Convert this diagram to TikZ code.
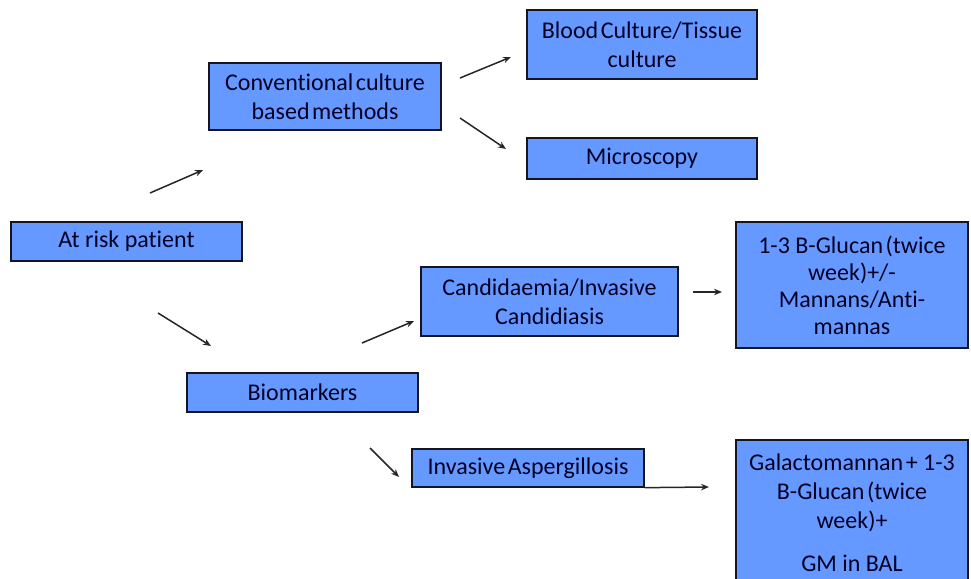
\documentclass[tikz,border=0pt]{standalone}
\usepackage{fontspec}
\setmainfont[Ligatures=NoCommon]{Carlito}
\usetikzlibrary{arrows.meta}
\definecolor{boxblue}{RGB}{102,153,255}
\definecolor{boxline}{RGB}{20,20,35}
\newcommand\tsp{\hspace{2.5pt}}
\tikzset{
  box/.style={draw=boxline, line width=1.3pt, fill=boxblue, align=center,
    inner sep=0pt, font=\fontsize{24}{29}\selectfont, text=black!85!blue},
  arr/.style={-{Stealth[length=8pt,width=6.5pt]}, line width=1.5pt, draw=black!85}
}
\begin{document}
\begin{tikzpicture}[x=1pt,y=-1pt]
\useasboundingbox (0,0) rectangle (971,578);
\clip (0,0) rectangle (971,578);
\node[box, minimum width=231pt, minimum height=39pt] (risk) at (126.5,241.5) {At risk patient};
\node[box, minimum width=232pt, minimum height=67pt] (conv) at (325,96.5) {Conventional\tsp culture\\based\tsp methods};
\node[box, minimum width=230pt, minimum height=69pt] (blood) at (642,44.5) {Blood\tsp Culture/Tissue\\culture};
\node[box, minimum width=230pt, minimum height=41pt] (micro) at (642,158.5) {Microscopy};
\node[box, minimum width=257pt, minimum height=69pt] (cand) at (549.5,301.5) {Candidaemia/Invasive\\Candidiasis};
\node[box, minimum width=232pt, minimum height=126pt, font=\fontsize{24}{27}\selectfont] (gluc) at (852,285) {1-3 B-Glucan\tsp(twice\\week)+/-\\Mannans/Anti-\\mannas};
\node[box, minimum width=231pt, minimum height=39pt] (bio) at (302.5,392.5) {Biomarkers};
\node[box, minimum width=232pt, minimum height=38pt] (asp) at (528,468) {Invasive\tsp Aspergillosis};
\node[box, minimum width=232pt, minimum height=145pt] (galac) at (852,512.5) {Galactomannan\tsp+ 1-3\\B-Glucan\tsp(twice\\week)+\\[14pt]GM in BAL};
% free-floating connectors
\coordinate (a1s) at (150,193); \coordinate (a1e) at (203,170);
\coordinate (a2s) at (460,78);  \coordinate (a2e) at (511,57);
\coordinate (a3s) at (460,118); \coordinate (a3e) at (506,149);
\coordinate (a4s) at (158,313); \coordinate (a4e) at (211,346);
\coordinate (a5s) at (362,343); \coordinate (a5e) at (414,321);
\coordinate (a6s) at (693,292); \coordinate (a6e) at (722,292);
\coordinate (a7s) at (370,448); \coordinate (a7e) at (399,477);
\coordinate (a8s) at (asp.south east); \coordinate (a8e) at (709,487);
\draw[arr] (a1s) -- (a1e);
\draw[arr] (a2s) -- (a2e);
\draw[arr] (a3s) -- (a3e);
\draw[arr] (a4s) -- (a4e);
\draw[arr] (a5s) -- (a5e);
\draw[arr] (a6s) -- (a6e);
\draw[arr] (a7s) -- (a7e);
\draw[arr] (a8s) -- (a8e);
\end{tikzpicture}
\end{document}
